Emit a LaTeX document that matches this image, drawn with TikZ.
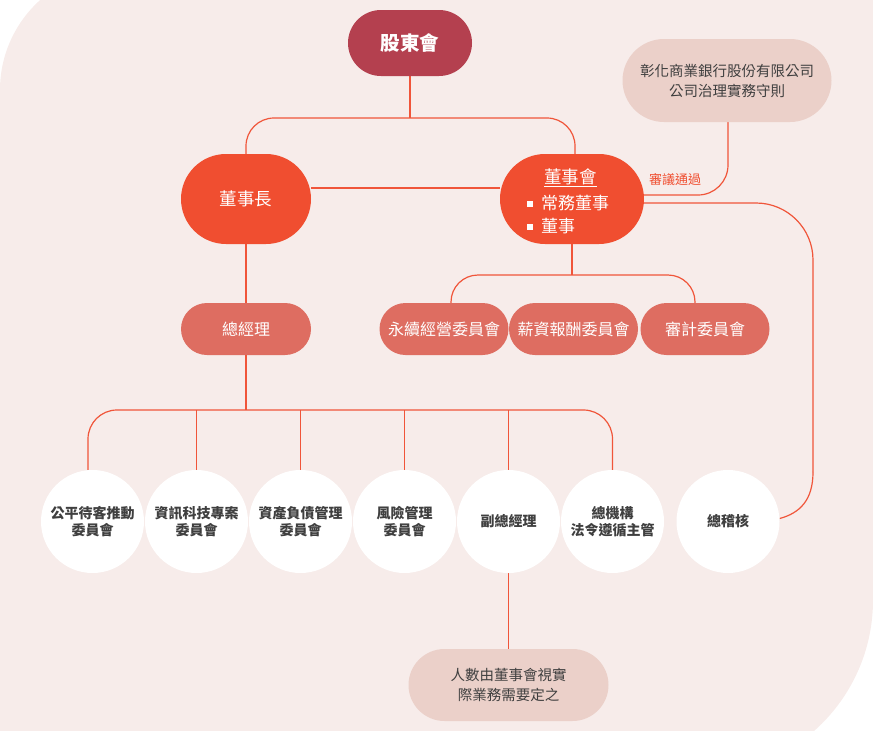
\documentclass[tikz,border=0pt]{standalone}
\usepackage{fontspec}
\setmainfont{Noto Sans CJK TC}
\pgfdeclarelayer{bgfill}
\pgfdeclarelayer{edges}
\pgfsetlayers{bgfill,edges,main}
\definecolor{bgpink}{HTML}{F7ECEA}
\definecolor{dred}{HTML}{B4404F}
\definecolor{ored}{HTML}{F04E30}
\definecolor{salmon}{HTML}{DE6D61}
\definecolor{notec}{HTML}{EBD0C9}
\definecolor{txt}{HTML}{3F3F3F}
\definecolor{linec}{HTML}{F0553A}
\begin{document}
\begin{tikzpicture}[x=1pt,y=-1pt,
  conn/.style={draw=linec, line width=1.2pt},
  pill/.style={rectangle, inner sep=0pt, draw=none},
  comm/.style={pill, fill=salmon, minimum width=129pt, minimum height=52pt, rounded corners=26pt, text=white, font=\fontsize{16}{19}\selectfont},
  notebox/.style={pill, fill=notec, text=txt, align=center, font=\fontsize{14.5}{20}\selectfont},
  circ/.style={circle, fill=white, minimum size=103pt, inner sep=0pt, align=center, text=txt, font=\bfseries\fontsize{14}{17}\selectfont},
  wtext/.style={inner sep=0pt, text=white},
  lbl/.style={inner sep=0pt, text=ored, font=\fontsize{13}{15}\selectfont}]
\useasboundingbox (0,0) rectangle (873,731);

\begin{pgfonlayer}{bgfill}
\begin{scope}
\clip (0,0) rectangle (873,731);
\fill[bgpink] (0,90) arc[start angle=180, end angle=270, radius=121] -- (880,-31) -- (873,-31) -- (873,600)
  arc[start angle=0, end angle=90, radius=175] -- (0,775) -- cycle;
\end{scope}
\end{pgfonlayer}

% top level
\node[pill, fill=dred, minimum width=124pt, minimum height=66pt, rounded corners=33pt, text=white, font=\bfseries\fontsize{19.5}{22}\selectfont] (gdh) at (410,43) {股東會};
\node[notebox, minimum width=209pt, minimum height=83pt, rounded corners=41.5pt] (note1) at (727,80.5) {彰化商業銀行股份有限公司\\公司治理實務守則};

\node[pill, fill=ored, minimum width=130pt, minimum height=90pt, rounded corners=45pt, text=white, font=\fontsize{17.5}{20}\selectfont] (chair) at (246,199) {董事長};
\node[pill, fill=ored, minimum width=144pt, minimum height=90pt, rounded corners=45pt] (board) at (572,199) {};
\node[wtext, font=\fontsize{17.5}{20}\selectfont] (bt) at (570.5,178) {\underline{董事會}};
\node[wtext, anchor=west, font=\fontsize{17}{20}\selectfont] (b1) at (541,203) {常務董事};
\node[wtext, anchor=west, font=\fontsize{17}{20}\selectfont] (b2) at (541,226) {董事};
\node[fill=white, minimum size=6pt, inner sep=0pt] (s1) at (529.5,203.5) {};
\node[fill=white, minimum size=6pt, inner sep=0pt] (s2) at (529.5,226.5) {};

\node[lbl] (pass) at (675,180) {審議通過};

% second level
\node[pill, fill=salmon, minimum width=130pt, minimum height=52pt, rounded corners=26pt, text=white, font=\fontsize{16}{19}\selectfont] (mgr) at (246,329) {總經理};
\node[comm] (sus) at (444,329) {永續經營委員會};
\node[comm] (sal) at (573.5,329) {薪資報酬委員會};
\node[comm] (aud) at (705,329) {審計委員會};

% circles
\node[circ] (c1) at (92.5,521.5) {公平待客推動\\委員會};
\node[circ] (c2) at (196.5,521.5) {資訊科技專案\\委員會};
\node[circ] (c3) at (300.5,521.5) {資產負債管理\\委員會};
\node[circ] (c4) at (404.5,521.5) {風險管理\\委員會};
\node[circ] (c5) at (508.5,521.5) {副總經理};
\node[circ] (c6) at (612.5,521.5) {總機構\\法令遵循主管};
\node[circ] (c7) at (728,521.5) {總稽核};

\node[notebox, minimum width=200pt, minimum height=72pt, rounded corners=36pt] (note2) at (508.5,685) {人數由董事會視實\\際業務需要定之};

\coordinate (j1) at (410,118);
\coordinate (j2) at (572,275);
\coordinate (j3) at (246,410);
\coordinate (rc) at (813,472);

\begin{pgfonlayer}{edges}
\draw[conn] (gdh.south) -- (j1);
\draw[conn, rounded corners=28pt] (chair.north) |- (j1) -| ([xshift=3pt]board.north);
\draw[conn] ([yshift=11pt]chair.east) -- ([yshift=11pt]board.west);
\draw[conn, rounded corners=30pt] ([xshift=1pt]note1.south) |- ([yshift=4pt]board.east);
\draw[conn, rounded corners=57pt] ([yshift=-4pt]board.east) -| (rc);
\draw[conn] (rc) .. controls (813,500) and (800,513) .. ([yshift=3pt]c7.east);
\draw[conn] (chair.south) -- (mgr.north);
\draw[conn] (mgr.south) -- (j3);
\draw[conn] (board.south) -- (j2);
\draw[conn, rounded corners=27pt] ([xshift=7pt]sus.north) |- (j2) -| ([xshift=-10pt]aud.north);
\draw[conn, rounded corners=29pt] ([xshift=-4.5pt]c1.north) |- (j3) -| (c6.north);
\foreach \c in {c2,c3,c4,c5} \draw[conn] (\c.north) -- (\c.north |- j3);
\draw[conn] (c5.south) -- (note2.north);
\end{pgfonlayer}
\end{tikzpicture}
\end{document}
